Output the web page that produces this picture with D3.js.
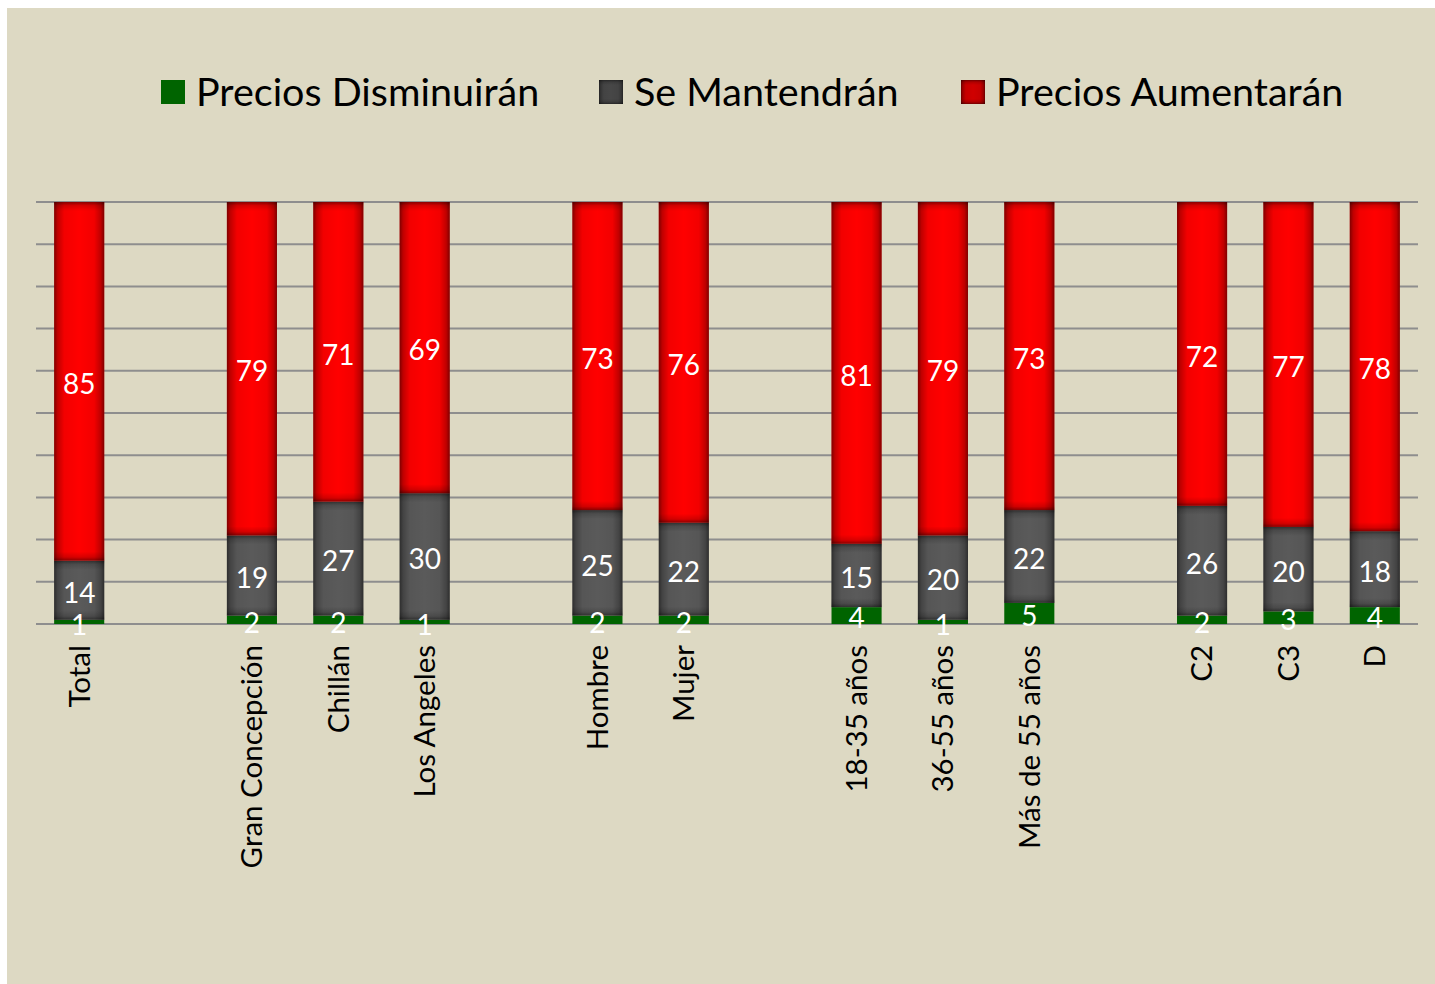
<!DOCTYPE html>
<html>
<head>
<meta charset="utf-8">
<script src="https://cdn.jsdelivr.net/npm/d3@7"></script>
<style>
  html, body { margin: 0; padding: 0; background: #ffffff; }
  svg { display: block; }
  text { font-family: Lato, "Open Sans", sans-serif; }
</style>
</head>
<body>
<div id="chart"></div>
<script>
// groups of categories, a blank slot sits between groups
const groups = [
    ['Total'],
    ['Gran Concepción', 'Chillán', 'Los Angeles'],
    ['Hombre', 'Mujer'],
    ['18-35 años', '36-55 años', 'Más de 55 años'],
    ['C2', 'C3', 'D']
];
const seriesNames = ['Precios Disminuirán', 'Se Mantendrán', 'Precios Aumentarán'];

const disminuiran = [1, 2, 2, 1, 2, 2, 4, 1, 5, 2, 3, 4];
const mantendran = [14, 19, 27, 30, 25, 22, 15, 20, 22, 26, 20, 18];
const aumentaran = [85, 79, 71, 69, 73, 76, 81, 79, 73, 72, 77, 78];

const yTicks = [0, 10, 20, 30, 40, 50, 60, 70, 80, 90, 100];

const width = 1435;
const height = 984;
const bg = '#ddd9c3';

const categories = groups.flat();
const slots = [];
groups.forEach((g, i) => {
    if (i > 0) slots.push('gap' + i);
    g.forEach(c => slots.push(c));
});

const rows = categories.map((c, i) => ({
    cat: c,
    dis: disminuiran[i],
    man: mantendran[i],
    aum: aumentaran[i]
}));

const svg = d3.select('#chart').append('svg')
    .attr('width', width)
    .attr('height', height);

const defs = svg.append('defs');

// shading gradients, to fake the bevelled look of the bars
function addGradient(id, vertical, stops) {
    const g = defs.append('linearGradient')
        .attr('id', id)
        .attr('x1', 0).attr('y1', 0)
        .attr('x2', vertical ? 0 : 1).attr('y2', vertical ? 1 : 0);
    stops.forEach(s => {
        g.append('stop')
            .attr('offset', s[0])
            .attr('stop-color', '#000')
            .attr('stop-opacity', s[1]);
    });
}
addGradient('sideShade', false, [[0, 0.5], [0.07, 0.25], [0.2, 0.05], [0.5, 0], [0.8, 0.05], [0.93, 0.25], [1, 0.5]]);
addGradient('topShade', true, [[0, 0.45], [0.4, 0.15], [1, 0]]);
addGradient('bottomShade', true, [[0, 0], [0.6, 0.15], [1, 0.45]]);

function shade(sel, w, h) {
    // sel is a group translated to the top left of the rect
    sel.append('rect')
        .attr('width', w).attr('height', h)
        .attr('fill', 'url(#sideShade)');
    const t = Math.min(9, h / 2);
    sel.append('rect')
        .attr('width', w).attr('height', t)
        .attr('fill', 'url(#topShade)');
    sel.append('rect')
        .attr('y', h - t)
        .attr('width', w).attr('height', t)
        .attr('fill', 'url(#bottomShade)');
}

svg.append('rect')
    .attr('x', 7).attr('y', 8)
    .attr('width', width - 7).attr('height', height - 8)
    .attr('fill', bg);

const x = d3.scaleBand()
    .domain(slots)
    .range([36, 1418])
    .paddingInner(0.42)
    .paddingOuter(0.21);

const y = d3.scaleLinear()
    .domain([0, 100])
    .range([624, 202]);

// gridlines
svg.append('g')
    .selectAll('line')
    .data(yTicks)
    .join('line')
    .attr('x1', 36)
    .attr('x2', 1418)
    .attr('y1', d => y(d))
    .attr('y2', d => y(d))
    .attr('stroke', '#8e8e8e')
    .attr('stroke-width', 2);

const series = [
    { key: 'dis', color: '#006400', shade: false },
    { key: 'man', color: '#5a5a5a', shade: true },
    { key: 'aum', color: '#ff0000', shade: true }
];

const stack = d3.stack().keys(series.map(s => s.key))(rows);

stack.forEach((layer, li) => {
    const segs = svg.append('g')
        .selectAll('g')
        .data(layer)
        .join('g')
        .attr('transform', d => 'translate(' + x(d.data.cat) + ',' + y(d[1]) + ')');
    segs.append('rect')
        .attr('width', x.bandwidth())
        .attr('height', d => y(d[0]) - y(d[1]))
        .attr('fill', series[li].color);
    if (series[li].shade) {
        segs.each(function (d) {
            shade(d3.select(this), x.bandwidth(), y(d[0]) - y(d[1]));
        });
    }
});

// value labels
const labels = svg.append('g')
    .attr('fill', '#fff')
    .attr('font-size', 28)
    .attr('text-anchor', 'middle');

stack.forEach(layer => {
    labels.selectAll(null)
        .data(layer)
        .join('text')
        .attr('x', d => x(d.data.cat) + x.bandwidth() / 2)
        .attr('y', d => y((d[0] + d[1]) / 2) + 3)
        .attr('dy', '0.35em')
        .text(d => d[1] - d[0]);
});

// category labels
svg.append('g')
    .selectAll('text')
    .data(categories)
    .join('text')
    .attr('transform', d => 'translate(' + (x(d) + x.bandwidth() / 2) + ',645) rotate(-90)')
    .attr('text-anchor', 'end')
    .attr('dy', '0.35em')
    .attr('font-size', 29.5)
    .attr('fill', '#000')
    .text(d => d);

// legend
const legendX = [161, 599, 961];
const legendFill = ['#006400', '#474747', '#d00000'];
const legend = svg.append('g')
    .selectAll('g')
    .data(seriesNames)
    .join('g')
    .attr('transform', (d, i) => 'translate(' + legendX[i] + ',80)');

legend.append('rect')
    .attr('width', 24)
    .attr('height', 24)
    .attr('fill', (d, i) => legendFill[i]);

legend.filter((d, i) => i > 0).each(function () {
    d3.select(this).append('rect')
        .attr('width', 24).attr('height', 24)
        .attr('fill', 'url(#sideShade)');
    d3.select(this).append('rect')
        .attr('width', 24).attr('height', 5)
        .attr('fill', 'url(#topShade)');
    d3.select(this).append('rect')
        .attr('y', 19)
        .attr('width', 24).attr('height', 5)
        .attr('fill', 'url(#bottomShade)');
});

legend.append('text')
    .attr('x', 35)
    .attr('y', 12)
    .attr('dy', '0.36em')
    .attr('font-size', 39.5)
    .attr('fill', '#000')
    .text(d => d);
</script>
</body>
</html>
